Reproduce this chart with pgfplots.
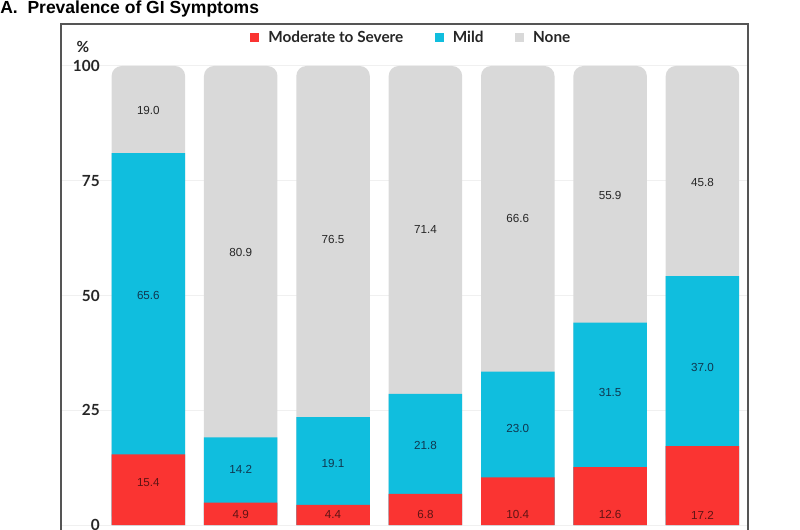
\documentclass[border=0pt]{standalone}
\usepackage{pgfplots}
\pgfplotsset{compat=1.18}
\usepackage{fontspec}
\setmainfont{Liberation Sans}
\newfontfamily\lato{Lato}
\definecolor{cRed}{RGB}{250,52,50}
\definecolor{cBlue}{RGB}{16,190,222}
\definecolor{cGrey}{RGB}{217,217,217}
\definecolor{cFrame}{RGB}{85,85,85}
\begin{document}
\begin{tikzpicture}
\useasboundingbox (0pt,0pt) rectangle (480pt,-318pt);
\clip (0pt,0pt) rectangle (480pt,-318pt);
\begin{axis}[
  at={(36.6pt,-14.4pt)}, anchor=north west,
  scale only axis, width=412.2pt, height=308.9pt,
  xmin=-0.946, xmax=6.493, ymin=-3, ymax=109.15,
  xtick=\empty,
  ytick={0,25,50,75,100},
  major tick length=0pt,
  ymajorgrids, grid style={color=black!6, line width=0.6pt},
  axis line style={cFrame, line width=0.7pt},
  /pgf/number format/assume math mode=true,
  yticklabel style={anchor=east, inner sep=0pt, xshift=23.4pt, font=\lato\bfseries\fontsize{9.2}{11}\selectfont, text=black!85},
  every axis y label/.style={at={(rel axis cs:0.032,0.955)}, anchor=center, font=\lato\bfseries\fontsize{9.2}{11}\selectfont, text=black!85},
  ylabel={\%},
  every axis title shift=0pt,
  title={A.\ \ Prevalence of GI Symptoms},
  title style={at={(rel axis cs:-0.0888,1.029)}, anchor=west, inner sep=0pt, font=\bfseries\fontsize{10.5}{12}\selectfont},
  legend columns=3,
  legend image code/.code={\fill[#1, draw=none] (0pt,-2.7pt) rectangle (5.4pt,2.7pt);},
  legend style={at={(rel axis cs:0.511,0.973)}, anchor=center, draw=none, fill=none,
    font=\lato\bfseries\fontsize{9.2}{11}\selectfont, text=black!85,
    /tikz/every odd column/.append style={column sep=3.3pt},
    /tikz/every even column/.append style={column sep=17pt}},
]
\addlegendimage{fill=cRed}\addlegendentry{Moderate to Severe}
\addlegendimage{fill=cBlue}\addlegendentry{Mild}
\addlegendimage{fill=cGrey}\addlegendentry{None}
% None: full background bars (rounded tops)
\addplot[ybar, bar width=0.796, bar shift=0pt, fill=cGrey, draw=none, rounded corners=6pt, forget plot]
  coordinates {(0,100) (1,100) (2,100) (3,100) (4,100) (5,100) (6,100)};
% Mild: cumulative top (moderate + mild)
\addplot[ybar, bar width=0.796, bar shift=0pt, fill=cBlue, draw=none, forget plot]
  coordinates {(0,81.0) (1,19.1) (2,23.5) (3,28.6) (4,33.4) (5,44.1) (6,54.2)};
% Moderate to severe
\addplot[ybar, bar width=0.796, bar shift=0pt, fill=cRed, draw=none, forget plot]
  coordinates {(0,15.4) (1,4.9) (2,4.4) (3,6.8) (4,10.4) (5,12.6) (6,17.2)};
% value labels
\addplot[draw=none, mark=none, forget plot, nodes near coords, point meta=explicit symbolic,
  every node near coord/.append style={anchor=center, inner sep=0pt, font=\fontsize{7}{8}\selectfont, text=black!85}]
  coordinates {(0,90.4) [19.0] (1,59.4) [80.9] (2,62.3) [76.5] (3,64.4) [71.4] (4,66.7) [66.6] (5,71.9) [55.9] (6,74.6) [45.8]};
\addplot[draw=none, mark=none, forget plot, nodes near coords, point meta=explicit symbolic,
  every node near coord/.append style={anchor=center, inner sep=0pt, font=\fontsize{7}{8}\selectfont, text={rgb,255:red,15;green,55;blue,80}}]
  coordinates {(0,50.1) [65.6] (1,12.2) [14.2] (2,13.4) [19.1] (3,17.4) [21.8] (4,21.1) [23.0] (5,28.8) [31.5] (6,34.4) [37.0]};
\addplot[draw=none, mark=none, forget plot, nodes near coords, point meta=explicit symbolic,
  every node near coord/.append style={anchor=center, inner sep=0pt, font=\fontsize{7}{8}\selectfont, text={rgb,255:red,95;green,20;blue,20}}]
  coordinates {(0,9.2) [15.4] (1,2.2) [4.9] (2,2.2) [4.4] (3,2.2) [6.8] (4,2.2) [10.4] (5,2.2) [12.6] (6,2.2) [17.2]};
\end{axis}
\end{tikzpicture}
\end{document}
